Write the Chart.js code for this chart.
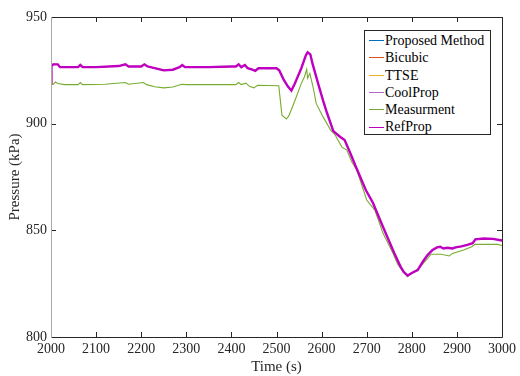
<!DOCTYPE html>
<html>
<head>
<meta charset="utf-8">
<script src="https://cdn.jsdelivr.net/npm/chart.js@4"></script>
<style>
  body { margin: 0; background: #fff; }
  #wrap { position: relative; width: 520px; height: 376px; }
  #legend {
    position: absolute; left: 364px; top: 30px; width: 125px; height: 102px;
    border: 1px solid #262626; background: #fff; padding-top: 1px;
    font-family: "Liberation Serif", "Times New Roman", serif; font-size: 14px; color: #000;
  }
  #legend .row { height: 17.3px; line-height: 17.3px; white-space: nowrap; display: flex; align-items: center; }
  #legend .swatch { display: inline-block; width: 15px; height: 0; border-top: 1.5px solid #000; margin-left: 4px; margin-right: 1px; }
</style>
</head>
<body>
<div id="wrap">
  <canvas id="myChart" width="520" height="376"></canvas>
  <div id="legend"></div>
</div>
<script>
// valeurs
const xTicks = [2000, 2100, 2200, 2300, 2400, 2500, 2600, 2700, 2800, 2900, 3000];
const yTicks = [800, 850, 900, 950];

// courbes des modeles (confondues sur la figure)
const timeModel = [2000, 2001, 2005, 2015, 2020, 2060, 2065, 2070, 2100, 2150, 2165, 2172, 2200, 2207, 2214, 2230, 2250, 2270, 2285, 2291, 2297, 2350, 2400, 2410, 2416, 2422, 2430, 2436, 2445, 2453, 2460, 2500, 2506, 2515, 2525, 2533, 2540, 2545, 2555, 2565, 2569, 2575, 2580, 2592, 2603, 2612, 2626, 2640, 2651, 2664, 2676, 2698, 2714, 2736, 2761, 2775, 2782, 2791, 2800, 2813, 2825, 2835, 2846, 2856, 2863, 2870, 2879, 2890, 2897, 2910, 2923, 2935, 2941, 2960, 2980, 3000];
const pressureModel = [919, 927, 927.8, 927.8, 926.5, 926.5, 927.5, 926.5, 926.5, 927, 927.8, 926.8, 926.8, 927.8, 926.8, 926, 925, 925.3, 926.5, 927.5, 926.5, 926.5, 926.8, 926.8, 927.8, 926.5, 927.5, 926, 925.5, 924.8, 926, 926, 925, 921, 917.5, 915.5, 918.5, 921, 926, 932, 933.5, 932.5, 928, 919, 911, 905, 896.5, 894, 892.3, 886, 879.8, 868.9, 862.8, 851.7, 839.4, 833, 830.5, 828.8, 830, 831.4, 835.5, 838.4, 840.8, 842, 842.3, 841.5, 841.8, 841.5, 842, 842.5, 843.2, 844, 845.8, 846.2, 846, 845.2];

// mesures
const timeMeas = [2000, 2005, 2010, 2015, 2030, 2060, 2065, 2070, 2120, 2165, 2172, 2205, 2212, 2230, 2250, 2270, 2290, 2300, 2350, 2410, 2416, 2422, 2432, 2440, 2450, 2458, 2505, 2508, 2512, 2522, 2527, 2533, 2544, 2555, 2562, 2567, 2569, 2574, 2581, 2588, 2603, 2620, 2630, 2645, 2656, 2667, 2678, 2700, 2718, 2736, 2758, 2769, 2778, 2790, 2800, 2815, 2835, 2843, 2865, 2883, 2890, 2915, 2933, 2940, 2990, 3000];
const pressureMeas = [918.3, 918.5, 919.5, 918.8, 918.3, 918.3, 919.3, 918.3, 918.5, 919.3, 918.5, 919.3, 918.3, 917.3, 916.8, 917.2, 918.5, 918.3, 918.3, 918.3, 919.3, 918.3, 919, 917.5, 916.8, 918, 917.8, 912, 904, 902.2, 903.5, 906.5, 912.6, 918.9, 922, 925.5, 921.3, 923.6, 917.3, 909.5, 903.3, 897, 894.7, 889, 887.6, 882, 878.3, 864.2, 859.5, 848.7, 839.4, 834, 831.4, 828.3, 830, 832, 836.9, 838.8, 838.8, 838, 839.2, 840.8, 842.3, 843.4, 843.4, 842.9];

const labels = ['Proposed Method', 'Bicubic', 'TTSE', 'CoolProp', 'Measurment', 'RefProp'];
const colors = ['#0072BD', '#D95319', '#EDB120', '#B368C6', '#77AC30', '#C000C0'];

const toPoints = (xs, ys) => xs.map((t, i) => ({ x: t, y: ys[i] }));
const modelPts = toPoints(timeModel, pressureModel);
const measPts = toPoints(timeMeas, pressureMeas);

const datasets = labels.map((lab, i) => ({
  label: lab,
  data: lab === 'Measurment' ? measPts : modelPts,
  borderColor: colors[i],
  borderWidth: lab === 'RefProp' ? 2.4 : (lab === 'Measurment' ? 1.1 : 1),
  pointRadius: 0,
  tension: 0,
  order: lab === 'RefProp' ? 1 : (lab === 'Measurment' ? 2 : 10 - i),
}));

const txt = '#262626';
const serif = '"Liberation Serif", "Times New Roman", serif';

// cadre et graduations vers l'interieur (style MATLAB)
const framePlugin = {
  id: 'frame',
  afterDraw(chart) {
    const { ctx, chartArea: { left, right, top, bottom }, scales: { x, y } } = chart;
    ctx.save();
    ctx.lineWidth = 1;
    ctx.strokeStyle = txt;
    ctx.beginPath();
    ctx.moveTo(left, top + 0.5); ctx.lineTo(right + 0.5, top + 0.5);
    ctx.lineTo(right + 0.5, bottom + 0.5); ctx.lineTo(left, bottom + 0.5);
    x.ticks.forEach(tk => {
      const px = Math.round(x.getPixelForValue(tk.value)) + 0.5;
      ctx.moveTo(px, bottom); ctx.lineTo(px, bottom - 5);
      ctx.moveTo(px, top); ctx.lineTo(px, top + 5);
    });
    y.ticks.forEach(tk => {
      const py = Math.round(y.getPixelForValue(tk.value)) + 0.5;
      ctx.moveTo(left, py); ctx.lineTo(left + 5, py);
      ctx.moveTo(right, py); ctx.lineTo(right - 5, py);
    });
    ctx.stroke();
    ctx.strokeStyle = '#a8a8a8';
    ctx.beginPath();
    ctx.moveTo(left + 0.5, top); ctx.lineTo(left + 0.5, bottom + 1);
    ctx.stroke();
    ctx.restore();
  }
};

const ctx = document.getElementById('myChart').getContext('2d');
const myChart = new Chart(ctx, {
  type: 'line',
  data: { datasets: datasets },
  options: {
    responsive: false,
    animation: false,
    layout: { padding: { left: 0, top: 17, right: 15, bottom: 0 } },
    plugins: { legend: { display: false }, tooltip: { enabled: false } },
    scales: {
      x: {
        type: 'linear', min: 2000, max: 3000,
        afterBuildTicks: s => { s.ticks = xTicks.map(v => ({ value: v })); },
        afterFit: s => { s.height = 39; },
        grid: { display: false, drawTicks: false },
        border: { display: false },
        ticks: { color: txt, font: { family: serif, size: 14 }, padding: 4, maxRotation: 0, callback: v => String(v) },
        title: { display: true, text: 'Time (s)', color: txt, font: { family: serif, size: 15 }, padding: { top: 0, bottom: 0 } }
      },
      y: {
        type: 'linear', min: 800, max: 950,
        afterBuildTicks: s => { s.ticks = yTicks.map(v => ({ value: v })); },
        afterFit: s => { s.width = 51; },
        grid: { display: false, drawTicks: false },
        border: { display: false },
        ticks: { color: txt, font: { family: serif, size: 14 }, padding: 4, callback: v => String(v) },
        title: { display: true, text: 'Pressure (kPa)', color: txt, font: { family: serif, size: 15 }, padding: { top: 6, bottom: 0 } }
      }
    }
  },
  plugins: [framePlugin]
});

// legende en HTML
const legend = document.getElementById('legend');
labels.forEach((lab, i) => {
  const row = document.createElement('div');
  row.className = 'row';
  const sw = document.createElement('span');
  sw.className = 'swatch';
  sw.style.borderTopColor = colors[i];
  row.appendChild(sw);
  row.appendChild(document.createTextNode(lab));
  legend.appendChild(row);
});
</script>
</body>
</html>
